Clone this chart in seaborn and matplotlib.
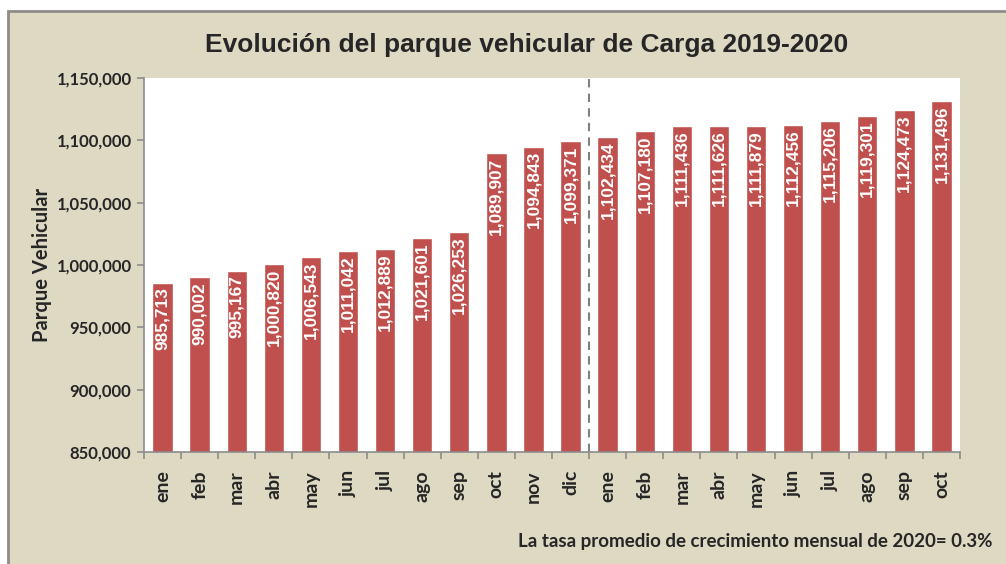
import matplotlib
matplotlib.use("Agg")
import matplotlib.pyplot as plt
import seaborn as sns
import pandas as pd
from matplotlib.patches import Rectangle
from matplotlib.ticker import FuncFormatter

months = ["ene", "feb", "mar", "abr", "may", "jun", "jul", "ago", "sep", "oct", "nov", "dic",
          "ene", "feb", "mar", "abr", "may", "jun", "jul", "ago", "sep", "oct"]
values = [985713, 990002, 995167, 1000820, 1006543, 1011042, 1012889, 1021601, 1026253,
          1089907, 1094843, 1099371, 1102434, 1107180, 1111436, 1111626, 1111879, 1112456,
          1115206, 1119301, 1124473, 1131496]
yticks = [850000, 900000, 950000, 1000000, 1050000, 1100000, 1150000]

df = pd.DataFrame({"pos": range(len(values)), "valor": values})

sns.set_style("white")
plt.rcParams["font.family"] = ["Lato", "DejaVu Sans"]

fig = plt.figure(figsize=(10.06, 5.64), dpi=100)
fig.patch.set_facecolor("white")
bg = Rectangle((8 / 1006, -0.05), 1.1, 1 - 11 / 564 + 0.05, transform=fig.transFigure,
               facecolor="#DDD9C3", edgecolor="#8C8C8C", linewidth=2.0, zorder=-10)
fig.patches.append(bg)

ax = fig.add_axes([144 / 1006, 1 - 452 / 564, (960 - 144) / 1006, (452 - 78) / 564])
ax.set_facecolor("white")

sns.barplot(data=df, x="pos", y="valor", color="#C0504D", saturation=1, width=0.55, ax=ax)

ax.set_ylim(850000, 1150000)
ax.set_yticks(yticks)
ax.yaxis.set_major_formatter(FuncFormatter(lambda v, p: f"{int(v):,}"))
ax.set_xticks(range(len(months)))
ax.set_xticklabels(months, rotation=90, fontsize=14, fontweight="bold")
for lab in ax.get_yticklabels():
    lab.set_fontsize(12)
    lab.set_fontweight("bold")
ax.set_xlim(-0.5, len(values) - 0.5)

for s in ["top", "right"]:
    ax.spines[s].set_visible(False)
for s in ["left", "bottom"]:
    ax.spines[s].set_color("#8C8C8C")
    ax.spines[s].set_linewidth(1.2)
ax.tick_params(axis="both", which="both", length=5, color="#8C8C8C", width=1.2, direction="out",
               left=True, bottom=False, pad=4)
ax.set_xticks([i - 0.5 for i in range(len(values) + 1)], minor=True)
ax.tick_params(axis="x", which="minor", length=5, color="#8C8C8C", width=1.2, bottom=True)
ax.tick_params(axis="x", which="major", pad=8)

ax.axvline(11.5, color="#808080", linestyle=(0, (4, 3)), linewidth=1.5)

for i, v in enumerate(values):
    ax.text(i, v - 3500, f"{v:,}", rotation=90, ha="center", va="top", color="white",
            fontsize=12.5, fontweight="bold", family="Liberation Sans")

ax.set_xlabel("")
ax.set_ylabel("Parque Vehicular", fontsize=14.5, fontweight="bold", labelpad=8)
ax.yaxis.set_label_coords(-92 / 816, 0.5)

fig.text(527 / 1006, 1 - 45 / 564, "Evolución del parque vehicular de Carga 2019-2020",
         ha="center", va="center", fontsize=19, fontweight="bold", family="Liberation Sans")
fig.text(993 / 1006, 1 - 541 / 564, "La tasa promedio de crecimiento mensual de 2020= 0.3%",
         ha="right", va="center", fontsize=13.5, fontweight="bold")

fig.savefig("out.png", dpi=100, facecolor=fig.get_facecolor())
